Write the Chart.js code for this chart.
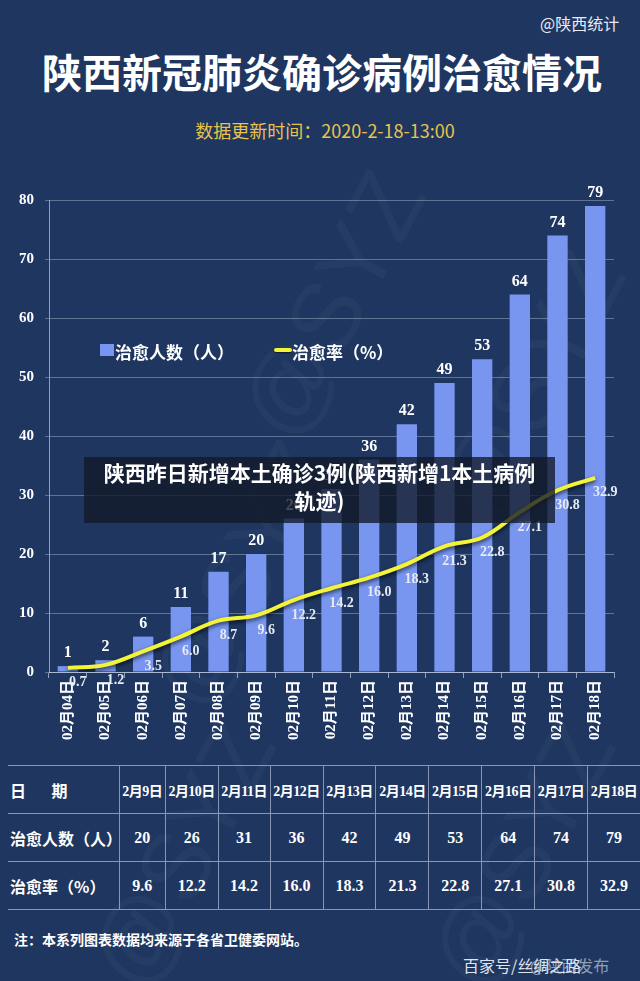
<!DOCTYPE html>
<html>
<head>
<meta charset="utf-8">
<script src="https://cdn.jsdelivr.net/npm/chart.js@4"></script>
<style>
  html, body { margin: 0; padding: 0; }
  body { width: 640px; height: 981px; background: #1e3660; position: relative; overflow: hidden;
         font-family: "Noto Sans CJK SC", "Noto Sans", sans-serif; color: #fff; }
  .abs { position: absolute; }
  #sign { left: 540px; top: 11px; font-size: 16px; color: #e8ecf4; }
  #titulo { left: 0; width: 644px; top: 42px; text-align: center; font-size: 40px; font-weight: 700; }
  #sub { left: 0; width: 650px; top: 117px; text-align: center; font-size: 18px; color: #e9c24c; }
  #wrap { left: 0; top: 180px; width: 640px; height: 580px; }
  .leg { top: 339px; font-size: 17px; font-weight: 700; }
  .marca { color: rgba(255,255,255,0.035); font-size: 96px; font-family: "Liberation Sans", sans-serif; transform: rotate(-62deg); }
  #faixa { left: 84px; top: 457px; width: 471px; height: 66px; background: rgba(18,24,40,0.78);
           text-align: center; font-size: 21px; font-weight: 700; line-height: 28px; padding-top: 1px; box-sizing: border-box; }
  table { position: absolute; left: 8px; top: 765px; width: 632px; border-collapse: collapse; }
  td { height: 47px; border-top: 1px solid rgba(220,230,250,0.55); border-bottom: 1px solid rgba(220,230,250,0.55);
       text-align: center; font-family: "Liberation Serif", "Noto Sans CJK SC", serif; font-weight: 700; font-size: 16px; padding: 0; }
  td + td { border-left: 1px solid rgba(220,230,250,0.55); }
  td.rot { text-align: left; padding-left: 2px; font-family: "Noto Sans CJK SC", sans-serif; font-size: 16px; }
  td.dt { font-size: 14px; letter-spacing: -0.5px; }
  #nota { left: 14px; top: 929px; font-size: 14px; font-weight: 700; }
  #fonte { left: 463px; top: 953px; font-size: 16px; color: #dfe4ee; }
  #fonte2 { left: 530px; top: 953px; font-size: 16px; color: rgba(223,228,238,0.6); }
</style>
</head>
<body>
<div class="abs marca" style="left:190px;top:250px;">@SYZ</div>
<div class="abs marca" style="left:390px;top:330px;">@SYZ</div>
<div class="abs marca" style="left:100px;top:520px;">@SYZ</div>
<div class="abs marca" style="left:40px;top:800px;">@SYZ</div>
<div class="abs marca" style="left:380px;top:800px;">@SYZ</div>

<div class="abs" id="sign">@陕西统计</div>
<div class="abs" id="titulo">陕西新冠肺炎确诊病例治愈情况</div>
<div class="abs" id="sub">数据更新时间：2020-2-18-13:00</div>

<div class="abs" id="wrap"><canvas id="grafico" width="640" height="580"></canvas></div>

<div class="abs" style="left:100px;top:344px;width:14px;height:12px;background:#7896f0;"></div>
<div class="abs leg" style="left:115px;">治愈人数（人）</div>
<div class="abs" style="left:274px;top:348px;width:18px;height:4px;background:#f3f338;border-radius:2px;box-shadow:0 1px 2px rgba(0,0,0,0.6);"></div>
<div class="abs leg" style="left:292px;">治愈率（%）</div>

<div class="abs" id="faixa">陕西昨日新增本土确诊3例(陕西新增1本土病例<br>轨迹)</div>

<table id="tabela"></table>

<div class="abs" id="nota">注：本系列图表数据均来源于各省卫健委网站。</div>
<div class="abs" id="fonte">百家号/丝绸之路</div>
<div class="abs" id="fonte2">@陕西发布</div>

<script>
const datas = ['02月04日', '02月05日', '02月06日', '02月07日', '02月08日', '02月09日', '02月10日', '02月11日',
  '02月12日', '02月13日', '02月14日', '02月15日', '02月16日', '02月17日', '02月18日'];
const curados = [1, 2, 6, 11, 17, 20, 26, 31, 36, 42, 49, 53, 64, 74, 79];
const taxa = [0.7, 1.2, 3.5, 6.0, 8.7, 9.6, 12.2, 14.2, 16.0, 18.3, 21.3, 22.8, 27.1, 30.8, 32.9];

const tabelaDatas = ['2月9日', '2月10日', '2月11日', '2月12日', '2月13日', '2月14日', '2月15日', '2月16日', '2月17日', '2月18日'];
const tabelaCurados = [20, 26, 31, 36, 42, 49, 53, 64, 74, 79];
const tabelaTaxa = ['9.6', '12.2', '14.2', '16.0', '18.3', '21.3', '22.8', '27.1', '30.8', '32.9'];

const corBarra = '#7896f0';
const corLinha = '#f3f338';
const fonteSerif = '"Liberation Serif", "Noto Sans CJK SC", serif';

// tabela de baixo
function montarTabela() {
  const t = document.getElementById('tabela');
  let html = '<tr><td class="rot" style="width:109px">日&nbsp;&nbsp;&nbsp;&nbsp;&nbsp;&nbsp;&nbsp;期</td>';
  tabelaDatas.forEach(d => { html += `<td class="dt">${d}</td>`; });
  html += '</tr><tr><td class="rot">治愈人数（人）</td>';
  tabelaCurados.forEach(v => { html += `<td>${v}</td>`; });
  html += '</tr><tr><td class="rot">治愈率（%）</td>';
  tabelaTaxa.forEach(v => { html += `<td>${v}</td>`; });
  html += '</tr>';
  t.innerHTML = html;
}
montarTabela();

const sombraLinha = {
  id: 'sombraLinha',
  beforeDatasetDraw(chart, args) {
    if (args.meta.type !== 'line') return;
    const ctx = chart.ctx;
    ctx.save();
    ctx.shadowColor = 'rgba(0,0,0,0.7)';
    ctx.shadowBlur = 4;
    ctx.shadowOffsetY = 2;
  },
  afterDatasetDraw(chart, args) {
    if (args.meta.type !== 'line') return;
    chart.ctx.restore();
  }
};

const rotulos = {
  id: 'rotulos',
  afterDatasetsDraw(chart) {
    const ctx = chart.ctx;
    ctx.save();
    ctx.textAlign = 'center';
    // valores das barras
    ctx.fillStyle = '#ffffff';
    ctx.font = 'bold 16px ' + fonteSerif;
    ctx.textBaseline = 'bottom';
    chart.getDatasetMeta(1).data.forEach((el, i) => {
      ctx.fillText(curados[i], el.x, el.y - 5);
    });
    // valores da taxa
    ctx.fillStyle = '#e6eaf4';
    ctx.font = 'bold 14px ' + fonteSerif;
    ctx.textBaseline = 'top';
    chart.getDatasetMeta(0).data.forEach((el, i) => {
      ctx.fillText(taxa[i].toFixed(1), el.x + 10, el.y + 8);
    });
    ctx.restore();
  }
};

const ctx = document.getElementById('grafico').getContext('2d');
new Chart(ctx, {
  data: {
    labels: datas,
    datasets: [
      {
        type: 'line',
        label: '治愈率（%）',
        data: taxa,
        borderColor: corLinha,
        borderWidth: 4,
        tension: 0.4,
        pointRadius: 0,
        order: 0
      },
      {
        type: 'bar',
        label: '治愈人数（人）',
        data: curados,
        backgroundColor: corBarra,
        categoryPercentage: 1,
        barPercentage: 0.54,
        order: 1
      }
    ]
  },
  options: {
    responsive: false,
    animation: false,
    layout: { padding: { top: 17, right: 26, left: 0, bottom: 0 } },
    plugins: { legend: { display: false }, tooltip: { enabled: false } },
    scales: {
      x: {
        offset: true,
        afterFit: s => { s.height = 88; },
        grid: { drawOnChartArea: false, drawTicks: true, tickLength: 6, color: 'rgba(220,230,250,0.6)', offset: true },
        border: { color: 'rgba(220,230,250,0.6)' },
        ticks: {
          color: '#ffffff', minRotation: 90, maxRotation: 90, padding: 2,
          font: { family: fonteSerif, weight: 'bold', size: 15 }
        }
      },
      y: {
        min: 0, max: 80,
        afterFit: s => { s.width = 49; },
        grid: { color: 'rgba(220,230,250,0.35)', tickLength: 4 },
        border: { color: 'rgba(220,230,250,0.6)' },
        ticks: {
          stepSize: 10, color: '#ffffff', padding: 11,
          font: { family: fonteSerif, weight: 'bold', size: 15 }
        }
      }
    }
  },
  plugins: [sombraLinha, rotulos]
});
</script>
</body>
</html>
